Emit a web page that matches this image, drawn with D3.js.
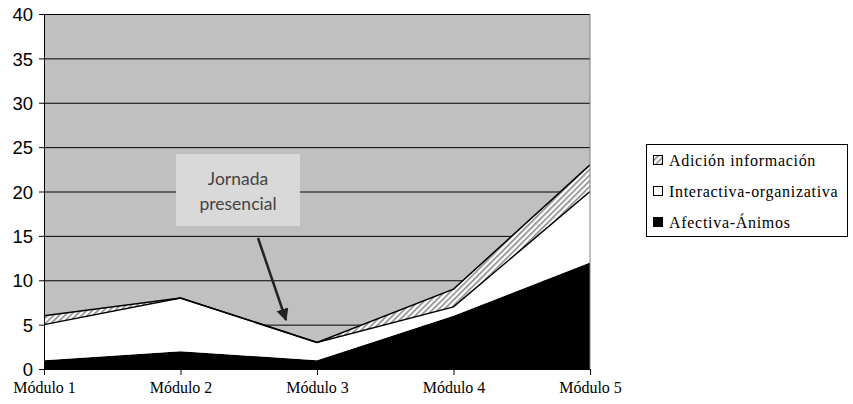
<!DOCTYPE html>
<html lang="es">
<head>
<meta charset="UTF-8">
<title>Módulos</title>
<style>
  body, html { margin: 0; background: #fff; overflow: hidden; }
  .ytick text { font: 18.5px "Liberation Sans", Arial, sans-serif; fill: #000; }
  .xtick text { font: 16px "Liberation Serif", "Times New Roman", serif; fill: #000; }
  .legend text { font: 16px "Liberation Serif", "Times New Roman", serif; fill: #000; letter-spacing: 0.7px; }
  .note text { font: 400 17.5px Lato, "Open Sans", sans-serif; fill: #444; }
</style>
</head>
<body>
<div id="chart"></div>
<script src="https://d3js.org/d3.v7.min.js"></script>
<script>
// categories and series
const modulos = ["Módulo 1", "Módulo 2", "Módulo 3", "Módulo 4", "Módulo 5"];
const afectiva = [1, 2, 1, 6, 12];
const interactiva = [4, 6, 2, 1, 8];
const adicion = [1, 0, 0, 2, 3];
const yTicks = [0, 5, 10, 15, 20, 25, 30, 35, 40];
const seriesNames = ["Afectiva-Ánimos", "Interactiva-organizativa", "Adición información"];
const legendOrder = ["Adición información", "Interactiva-organizativa", "Afectiva-Ánimos"];

const W = 853, H = 404;
const margin = { top: 14, left: 44, right: 263, bottom: 35 };

const rows = modulos.map((m, i) => ({
  modulo: m,
  "Afectiva-Ánimos": afectiva[i],
  "Interactiva-organizativa": interactiva[i],
  "Adición información": adicion[i]
}));

const svg = d3.select("#chart").append("svg")
  .attr("width", W).attr("height", H);

// hatch pattern for the top series
const defs = svg.append("defs");
const pat = defs.append("pattern")
  .attr("id", "hatch")
  .attr("patternUnits", "userSpaceOnUse")
  .attr("width", 4).attr("height", 4)
  .attr("patternTransform", "rotate(45)");
pat.append("rect").attr("width", 4).attr("height", 4).attr("fill", "#fff");
pat.append("rect").attr("width", 1.6).attr("height", 4).attr("fill", "#8a8a8a");

const x = d3.scalePoint()
  .domain(modulos)
  .range([margin.left, W - margin.right]);

const y = d3.scaleLinear()
  .domain([0, 40])
  .range([H - margin.bottom, margin.top]);

// plot background
svg.append("rect")
  .attr("x", x.range()[0]).attr("y", y(40))
  .attr("width", x.range()[1] - x.range()[0])
  .attr("height", y(0) - y(40))
  .attr("fill", "#c0c0c0");

// gridlines
svg.append("g")
  .selectAll("line")
  .data(yTicks.filter(d => d > 0))
  .join("line")
  .attr("x1", x.range()[0]).attr("x2", x.range()[1])
  .attr("y1", d => y(d) + 0.5).attr("y2", d => y(d) + 0.5)
  .attr("stroke", "#000").attr("stroke-width", 1);

// stacked areas
const stack = d3.stack().keys(seriesNames);
const layers = stack(rows);
const fills = { "Afectiva-Ánimos": "#000", "Interactiva-organizativa": "#fff", "Adición información": "url(#hatch)" };

const area = d3.area()
  .x(d => x(d.data.modulo))
  .y0(d => y(d[0]))
  .y1(d => y(d[1]));

svg.append("g")
  .selectAll("path")
  .data(layers)
  .join("path")
  .attr("d", area)
  .attr("fill", d => fills[d.key]);

// outlines of stacked areas
const topLine = d3.line()
  .x(d => x(d.data.modulo))
  .y(d => y(d[1]));

svg.append("g")
  .selectAll("path")
  .data(layers.slice(1))
  .join("path")
  .attr("d", topLine)
  .attr("fill", "none")
  .attr("stroke", "#000")
  .attr("stroke-width", 1.5);

// right edge of plot
svg.append("line")
  .attr("x1", x.range()[1]).attr("x2", x.range()[1])
  .attr("y1", y(40)).attr("y2", y(0))
  .attr("stroke", "#808080").attr("stroke-width", 1);

// y axis
const yAxis = svg.append("g");
yAxis.append("line")
  .attr("x1", margin.left + 0.5).attr("x2", margin.left + 0.5)
  .attr("y1", y(40)).attr("y2", y(0))
  .attr("stroke", "#000");
const yt = yAxis.selectAll("g")
  .data(yTicks)
  .join("g")
  .attr("class", "ytick")
  .attr("transform", d => `translate(0,${y(d) + 0.5})`);
yt.append("line")
  .attr("x1", margin.left - 5).attr("x2", margin.left)
  .attr("stroke", "#000");
yt.append("text")
  .attr("x", margin.left - 11)
  .attr("dy", "0.36em")
  .attr("text-anchor", "end")
  .text(d => d);

// x axis
const xAxis = svg.append("g");
xAxis.append("line")
  .attr("x1", x.range()[0]).attr("x2", x.range()[1])
  .attr("y1", y(0) + 0.5).attr("y2", y(0) + 0.5)
  .attr("stroke", "#000");
const xt = xAxis.selectAll("g")
  .data(modulos)
  .join("g")
  .attr("class", "xtick")
  .attr("transform", d => `translate(${x(d) + 0.5},${y(0)})`);
xt.append("line")
  .attr("y1", 0).attr("y2", 6)
  .attr("stroke", "#000");
xt.append("text")
  .attr("y", 24)
  .attr("text-anchor", "middle")
  .text(d => d);

// annotation
const note = svg.append("g").attr("class", "note");
note.append("rect")
  .attr("x", 176).attr("y", 154)
  .attr("width", 124).attr("height", 72)
  .attr("fill", "#d9d9d9");
note.append("text").attr("x", 238).attr("y", 185).attr("text-anchor", "middle").text("Jornada");
note.append("text").attr("x", 238).attr("y", 210).attr("text-anchor", "middle").text("presencial");

defs.append("marker")
  .attr("id", "arrow")
  .attr("viewBox", "0 0 10 10")
  .attr("refX", 9).attr("refY", 5)
  .attr("markerWidth", 5).attr("markerHeight", 5)
  .attr("markerUnits", "strokeWidth")
  .attr("orient", "auto")
  .append("path")
  .attr("d", "M0,0 L10,5 L0,10 Z")
  .attr("fill", "#222");

note.append("line")
  .attr("x1", 258).attr("y1", 238)
  .attr("x2", 286).attr("y2", 320)
  .attr("stroke", "#222")
  .attr("stroke-width", 2.5)
  .attr("marker-end", "url(#arrow)");

// legend
const legend = svg.append("g").attr("class", "legend");
legend.append("rect")
  .attr("x", 646.5).attr("y", 144.5)
  .attr("width", 201).attr("height", 92)
  .attr("fill", "#fff").attr("stroke", "#000");
const li = legend.selectAll("g")
  .data(legendOrder)
  .join("g")
  .attr("transform", (d, i) => `translate(653,${160 + i * 31})`);
li.append("rect")
  .attr("x", 0.5).attr("y", -4.5)
  .attr("width", 9).attr("height", 9)
  .attr("fill", d => d === "Adición información" ? "url(#hatch)" : fills[d])
  .attr("stroke", "#000");
li.append("text")
  .attr("x", 16)
  .attr("dy", "0.35em")
  .text(d => d);
</script>
</body>
</html>
